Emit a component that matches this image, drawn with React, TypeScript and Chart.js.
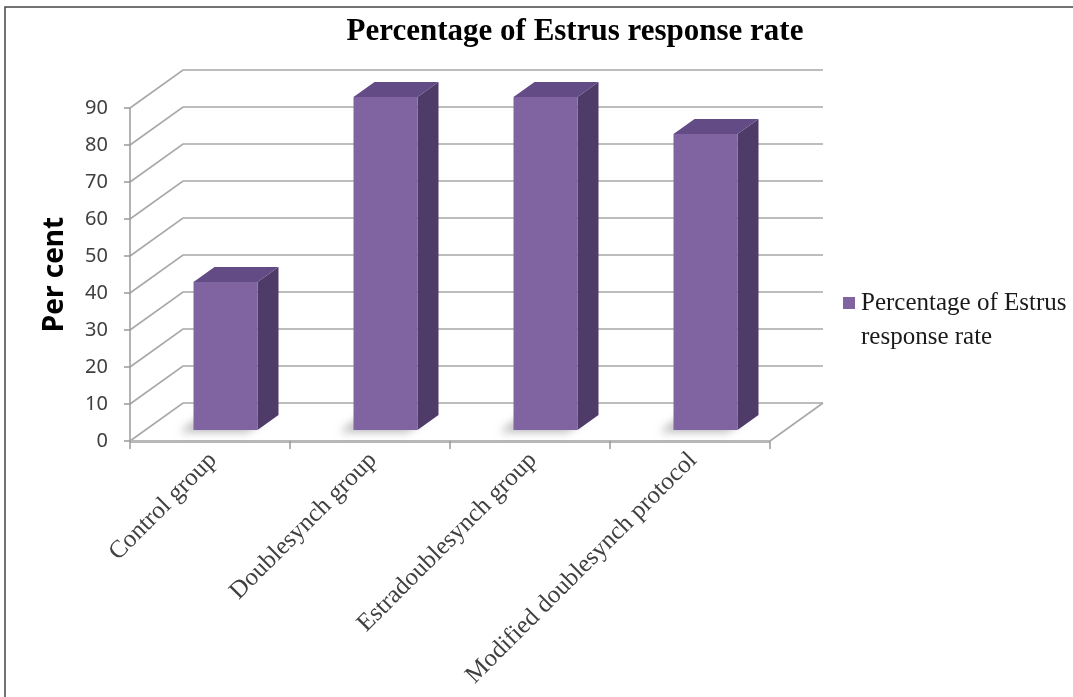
import React, { useEffect, useRef } from "react";
import { Chart, registerables } from "chart.js";

Chart.register(...registerables);

// ---- data ----
const chartTitle = "Percentage of Estrus response rate";
const categories = [
  "Control group",
  "Doublesynch group",
  "Estradoublesynch group",
  "Modified doublesynch protocol",
];
const seriesLabel = "Percentage of Estrus response rate";
const legendLines = ["Percentage of Estrus", "response rate"];
const values = [40, 90, 90, 80];
const yMin = 0;
const yMax = 90;
const yStep = 10;
const yTitle = "Per cent";

// ---- styles / geometry (not data) ----
const FRONT = "#8064A2";
const TOP = "#634B86";
const SIDE = "#4E3B67";
const GRID = "#a8a8a8";
const WALL = { dx: 53, dy: -38 };
const BAR_FRONT = { dx: 15.5, dy: -11 };
const BAR_DEPTH = { dx: 21, dy: -15 };

const threeD = {
  id: "threeD",
  beforeDatasetsDraw(chart: any) {
    const { ctx, chartArea: a, scales } = chart;
    const y = scales.y;
    const py0 = y.getPixelForValue(yMin);
    const pyTop = y.getPixelForValue(yMax);
    ctx.save();
    ctx.lineCap = "butt";
    // back wall gridlines + diagonals
    ctx.strokeStyle = GRID;
    ctx.lineWidth = 1.6;
    y.ticks.forEach((t: any) => {
      const py = y.getPixelForValue(t.value);
      ctx.beginPath();
      ctx.moveTo(a.left, py);
      ctx.lineTo(a.left + WALL.dx, py + WALL.dy);
      ctx.lineTo(a.right + WALL.dx, py + WALL.dy);
      ctx.stroke();
    });
    // floor right edge
    ctx.beginPath();
    ctx.moveTo(a.right, py0);
    ctx.lineTo(a.right + WALL.dx, py0 + WALL.dy);
    ctx.stroke();
    // floor front edge (thick)
    ctx.strokeStyle = "#b8b8b8";
    ctx.lineWidth = 3;
    ctx.beginPath();
    ctx.moveTo(a.left, py0 + 0.5);
    ctx.lineTo(a.right, py0 + 0.5);
    ctx.stroke();
    // y axis line + ticks
    ctx.strokeStyle = "#9a9a9a";
    ctx.lineWidth = 1.5;
    ctx.beginPath();
    ctx.moveTo(a.left, py0);
    ctx.lineTo(a.left, pyTop);
    ctx.stroke();
    y.ticks.forEach((t: any) => {
      const py = y.getPixelForValue(t.value);
      ctx.beginPath();
      ctx.moveTo(a.left - 6, py);
      ctx.lineTo(a.left, py);
      ctx.stroke();
    });
    // x category tick marks
    const n = categories.length;
    const cw = (a.right - a.left) / n;
    for (let i = 0; i <= n; i++) {
      const px = a.left + i * cw;
      ctx.beginPath();
      ctx.moveTo(px, py0);
      ctx.lineTo(px, py0 + 8);
      ctx.stroke();
    }
    // bar shadows on floor
    const meta = chart.getDatasetMeta(0);
    meta.data.forEach((el: any) => {
      const p = el.getProps(["x", "y", "base", "width"], true);
      const x0 = p.x - p.width / 2 + BAR_FRONT.dx;
      const x1 = p.x + p.width / 2 + BAR_FRONT.dx;
      const yb = p.base + BAR_FRONT.dy;
      ctx.save();
      ctx.filter = "blur(4px)";
      ctx.fillStyle = "rgba(70,70,70,0.4)";
      ctx.beginPath();
      ctx.moveTo(x0 - 14, yb + 2);
      ctx.lineTo(x1 - 10, yb + 2);
      ctx.lineTo(x1 + BAR_DEPTH.dx - 10, yb + BAR_DEPTH.dy + 2);
      ctx.lineTo(x0 + BAR_DEPTH.dx - 14, yb + BAR_DEPTH.dy + 2);
      ctx.closePath();
      ctx.fill();
      ctx.restore();
    });
    ctx.restore();
  },
  afterDatasetsDraw(chart: any) {
    const { ctx } = chart;
    const meta = chart.getDatasetMeta(0);
    ctx.save();
    meta.data.forEach((el: any) => {
      const p = el.getProps(["x", "y", "base", "width"], true);
      const x0 = p.x - p.width / 2 + BAR_FRONT.dx;
      const x1 = p.x + p.width / 2 + BAR_FRONT.dx;
      const yt = p.y + BAR_FRONT.dy;
      const yb = p.base + BAR_FRONT.dy;
      // side
      ctx.fillStyle = SIDE;
      ctx.beginPath();
      ctx.moveTo(x1, yt);
      ctx.lineTo(x1 + BAR_DEPTH.dx, yt + BAR_DEPTH.dy);
      ctx.lineTo(x1 + BAR_DEPTH.dx, yb + BAR_DEPTH.dy);
      ctx.lineTo(x1, yb);
      ctx.closePath();
      ctx.fill();
      // top
      ctx.fillStyle = TOP;
      ctx.beginPath();
      ctx.moveTo(x0, yt);
      ctx.lineTo(x1, yt);
      ctx.lineTo(x1 + BAR_DEPTH.dx, yt + BAR_DEPTH.dy);
      ctx.lineTo(x0 + BAR_DEPTH.dx, yt + BAR_DEPTH.dy);
      ctx.closePath();
      ctx.fill();
      // front
      ctx.fillStyle = FRONT;
      ctx.fillRect(x0, yt, x1 - x0, yb - yt);
    });
    ctx.restore();
  },
  afterDraw(chart: any) {
    const { ctx } = chart;
    ctx.save();
    // frame
    ctx.strokeStyle = "#444";
    ctx.lineWidth = 1.5;
    ctx.beginPath();
    ctx.moveTo(5, 697);
    ctx.lineTo(5, 7);
    ctx.lineTo(1073, 7);
    ctx.stroke();
    // title
    ctx.fillStyle = "#000";
    ctx.font = 'bold 31px "Liberation Serif"';
    ctx.textAlign = "center";
    ctx.textBaseline = "middle";
    ctx.fillText(chartTitle, 575, 32);
    // legend
    ctx.fillStyle = FRONT;
    ctx.fillRect(843, 297, 12, 12);
    ctx.fillStyle = "#1a1a1a";
    ctx.font = '25px "Liberation Serif"';
    ctx.textAlign = "left";
    ctx.fillText(legendLines[0], 861, 303);
    ctx.fillText(legendLines[1], 861, 337);
    ctx.restore();
  },
};

export default function App() {
  const ref = useRef<HTMLCanvasElement | null>(null);
  useEffect(() => {
    if (!ref.current) return;
    const chart = new Chart(ref.current, {
      type: "bar",
      data: {
        labels: categories,
        datasets: [
          {
            label: seriesLabel,
            data: values,
            backgroundColor: "rgba(0,0,0,0)",
            borderWidth: 0,
            barPercentage: 0.4,
            categoryPercentage: 1.0,
          },
        ],
      },
      options: {
        responsive: false,
        animation: false,
        events: [],
        layout: { padding: { top: 108, right: 303, bottom: 0, left: 0 } },
        plugins: {
          legend: { display: false },
          title: { display: false },
          tooltip: { enabled: false },
        },
        scales: {
          x: {
            type: "category",
            offset: true,
            grid: { display: false, drawTicks: false, tickLength: 0 },
            border: { display: false },
            ticks: {
              autoSkip: false,
              minRotation: 45,
              maxRotation: 45,
              padding: 5,
              labelOffset: 3,
              color: "#404040",
              font: { family: "Liberation Serif", size: 25 },
            },
            afterFit(s: any) {
              s.height = 256;
              s.paddingLeft = 0;
              s.paddingRight = 0;
            },
          },
          y: {
            min: yMin,
            max: yMax,
            grid: { display: false, drawTicks: false, tickLength: 0 },
            border: { display: false },
            ticks: {
              stepSize: yStep,
              padding: 22,
              color: "#404040",
              font: { family: "Noto Sans", size: 20 },
            },
            title: {
              display: true,
              text: yTitle,
              color: "#000",
              font: { family: "Noto Sans", size: 28, weight: "bold" },
              padding: { top: 38, bottom: 0 },
            },
            afterFit(s: any) {
              s.width = 130;
              s.paddingTop = 0;
              s.paddingBottom = 0;
            },
          },
        },
      },
      plugins: [threeD],
    });
    return () => chart.destroy();
  }, []);
  return (
    <div style={{ position: "absolute", left: 0, top: 0, width: 1073, height: 697, background: "#fff" }}>
      <canvas ref={ref} width={1073} height={697} style={{ display: "block" }} />
    </div>
  );
}
